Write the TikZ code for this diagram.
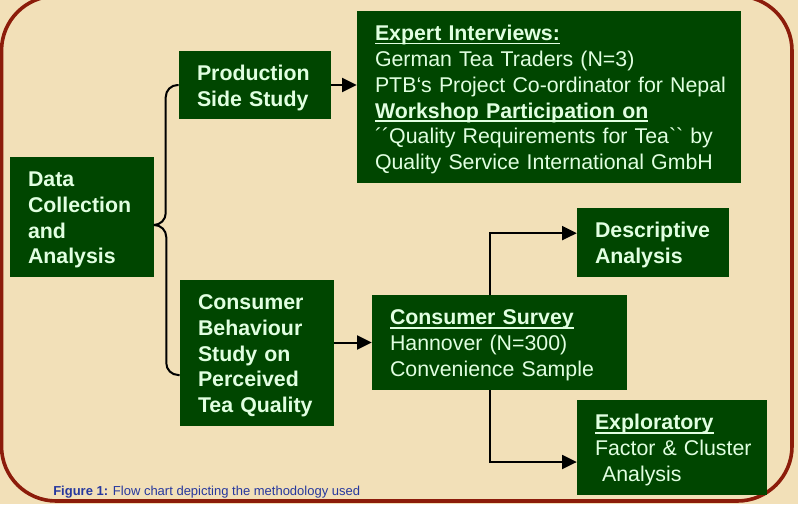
\documentclass[tikz,border=0pt]{standalone}
\usepackage{fontspec}
\setmainfont{Liberation Sans}[Ligatures=TeXOff]
\usetikzlibrary{arrows.meta}
\definecolor{paper}{RGB}{242,224,184}
\definecolor{framered}{RGB}{140,28,10}
\definecolor{boxgreen}{RGB}{0,70,0}
\definecolor{boxtext}{RGB}{225,255,225}
\definecolor{capblue}{RGB}{38,56,158}

% bold heading with a rule just under the baseline
\newcommand{\uhead}[1]{\leavevmode\setbox0\hbox{\bfseries #1}\rlap{\rule[-2.7pt]{\wd0}{1.1pt}}\box0}
% box text, one line per row, never wrapped
\newcommand{\boxlines}[1]{\begin{tabular}{@{}l@{}}\rule{0pt}{18pt}#1\end{tabular}}

\begin{document}
\begin{tikzpicture}[x=0.75pt,y=0.75pt,yscale=-1,
  box/.style={fill=boxgreen,text=boxtext,inner xsep=13.5pt,inner ysep=0pt,align=left,
    font=\fontsize{16}{19.3}\selectfont},
  link/.style={line width=1.5pt,rounded corners=9pt},
  arrow/.style={line width=1.5pt,-{Triangle[length=11pt,width=10.5pt]}}]
\useasboundingbox (0,0) rectangle (798,504);

%Paper and frame
\fill[paper] (0,0) rectangle (798,504);
\draw[framered,line width=2.7pt,rounded corners=41pt] (1.5,-4) rectangle (792,501);

% Text Node
\node[box,text width=81pt,minimum height=90pt] (dc) at (82,217)
  {\bfseries\boxlines{Data\\Collection\\and\\Analysis}};
% Text Node
\node[box,text width=87pt,minimum height=51pt] (prod) at (255,85)
  {\bfseries\boxlines{Production\\Side Study}};
% Text Node
\node[box,text width=261pt,minimum height=129pt] (expert) at (549,97)
  {\boxlines{\uhead{Expert Interviews:}\\German Tea Traders (N=3)\\PTB‘s Project Co-ordinator for Nepal\\
   \uhead{Workshop Participation on}\\´´Quality Requirements for Tea`` by\\Quality Service International GmbH}};
% Text Node
\node[box,text width=88.5pt,minimum height=109.5pt] (cb) at (257,353)
  {\bfseries\boxlines{Consumer\\Behaviour\\Study on\\Perceived\\Tea Quality}};
% Text Node
\node[box,text width=164.25pt,minimum height=71.25pt] (survey) at (499.5,342.5)
  {\boxlines{\uhead{Consumer Survey}\\Hannover (N=300)\\Convenience Sample}};
% Text Node
\node[box,text width=87pt,minimum height=51.75pt] (desc) at (653,242.5)
  {\bfseries\boxlines{Descriptive\\Analysis}};
% Text Node
\node[box,text width=115.5pt,minimum height=71.25pt] (explor) at (672,447.5)
  {\boxlines{\uhead{Exploratory}\\Factor \& Cluster\\\ Analysis}};

%Curve Lines
\draw[link] (prod.west) -- ++(-13,0) |- ([yshift=6pt]dc.east);
\draw[link] ([yshift=6pt]dc.east) -- ++(12,0) |- ([yshift=16.5pt]cb.west);

%Straight Lines
\draw[arrow] (prod.east) -- (prod.east -| expert.west);
\draw[arrow] (cb.east |- survey.west) -- (survey.west);
\draw[arrow] ([xshift=-7.5pt]survey.north) |- ([yshift=-7pt]desc.west);
\draw[arrow] ([xshift=-7.5pt]survey.south) |- ([yshift=10.9pt]explor.west);

% Text Node
\node[anchor=base west,inner sep=0pt,text=capblue,font=\fontsize{9.75}{12}\selectfont] (caption) at (53,495)
  {\textbf{Figure 1:} Flow chart depicting the methodology used};

\end{tikzpicture}
\end{document}
